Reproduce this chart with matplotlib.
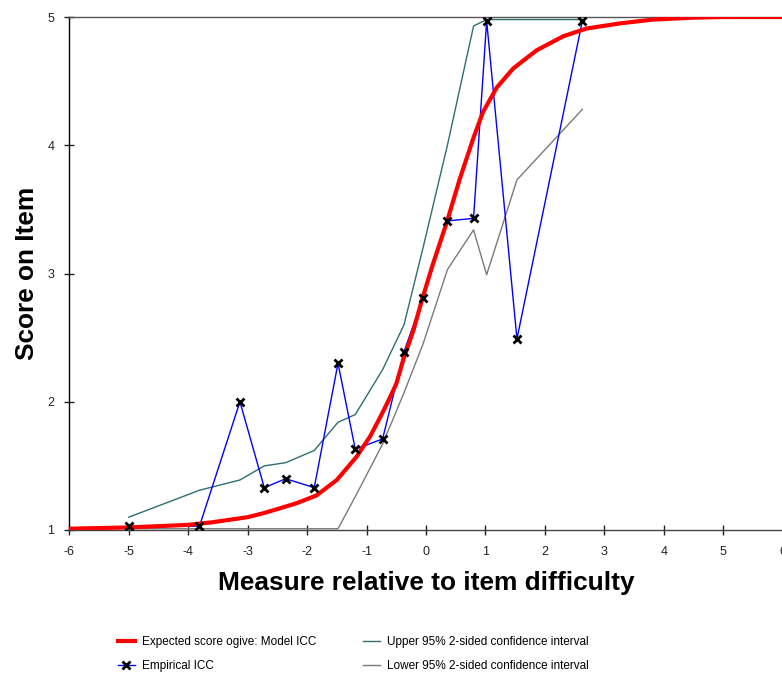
import matplotlib
matplotlib.use("Agg")
import matplotlib.pyplot as plt
from matplotlib.lines import Line2D

plt.rcParams['font.family'] = ['Liberation Sans', 'DejaVu Sans']

# ---- data ----
model_x = [-6, -5, -4.5, -4, -3.6, -3.3, -3.0, -2.74, -2.45, -2.17, -1.84, -1.5, -1.17,
           -0.94, -0.77, -0.63, -0.5, -0.38, -0.21, -0.07, 0.1, 0.35, 0.57, 0.8, 0.96,
           1.19, 1.47, 1.86, 2.31, 2.7, 3.26, 3.82, 4.5, 5, 6]
model_y = [1.01, 1.02, 1.03, 1.04, 1.06, 1.08, 1.10, 1.13, 1.17, 1.21, 1.27, 1.39, 1.57,
           1.73, 1.88, 2.01, 2.14, 2.33, 2.56, 2.79, 3.05, 3.40, 3.74, 4.06, 4.26,
           4.45, 4.60, 4.74, 4.85, 4.91, 4.95, 4.98, 4.995, 5.0, 5.0]

emp_x = [-5.00, -3.81, -3.13, -2.72, -2.36, -1.88, -1.48, -1.19, -0.73, -0.37,
         -0.05, 0.36, 0.80, 1.02, 1.53, 2.63]
emp_y = [1.03, 1.03, 2.00, 1.33, 1.40, 1.33, 2.30, 1.63, 1.71, 2.39,
         2.81, 3.41, 3.43, 4.97, 2.49, 4.97]
upper_y = [1.10, 1.31, 1.39, 1.50, 1.525, 1.62, 1.84, 1.90, 2.25, 2.60,
           3.20, 4.00, 4.93, 4.98, 4.98, 4.98]
lower_y = [1.01, 1.01, 1.01, 1.01, 1.01, 1.01, 1.01, 1.26, 1.67, 2.07,
           2.45, 3.03, 3.34, 2.99, 3.73, 4.28]

x_ticks = [-6, -5, -4, -3, -2, -1, 0, 1, 2, 3, 4, 5, 6]
y_ticks = [1, 2, 3, 4, 5]

labels = ["Expected score ogive: Model ICC", "Empirical ICC",
          "Upper 95% 2-sided confidence interval",
          "Lower 95% 2-sided confidence interval"]

# ---- figure ----
W, H = 782, 674
fig = plt.figure(figsize=(W / 100, H / 100), dpi=100)
left, right, top, bottom = 69.3, 782.7, 17, 530
ax = fig.add_axes([left / W, 1 - bottom / H, (right - left) / W, (bottom - top) / H])

c_red = '#FF0000'
c_blue = '#0000FF'
c_teal = '#2F6E6E'
c_gray = '#7A7A7A'

ax.plot(emp_x, upper_y, color=c_teal, lw=1.0, zorder=2)
ax.plot(emp_x, lower_y, color=c_gray, lw=1.0, zorder=2)
ax.plot(emp_x, emp_y, color=c_blue, lw=1.0, zorder=3)
ax.plot(model_x, model_y, color=c_red, lw=3.0, zorder=4, solid_joinstyle='round')
ax.plot(emp_x, emp_y, ls='none', marker='x', ms=6, mew=2, color='black', zorder=5)

ax.set_xlim(-6, 6)
ax.set_ylim(1, 5)
ax.set_xticks(x_ticks)
ax.set_yticks(y_ticks)
ax.set_xticklabels([str(t) for t in x_ticks])
ax.set_yticklabels([str(t) for t in y_ticks])

ax.spines['right'].set_visible(False)
ax.spines['top'].set_color('#555555')
ax.spines['left'].set_color('black')
ax.spines['bottom'].set_color('#444444')
for s in ['top', 'left', 'bottom']:
    ax.spines[s].set_linewidth(1.0)

ax.tick_params(axis='both', direction='inout', length=6.5, width=1.0, color='#222222',
               labelsize=9, labelcolor='#222222')
ax.tick_params(axis='y', pad=7.5)
ax.tick_params(axis='x', pad=8.5)

ax.set_xlabel("Measure relative to item difficulty", fontsize=18.9, fontweight='bold',
              va='center')
ax.xaxis.set_label_coords(0.5, -(583 - bottom) / (bottom - top))
ax.set_ylabel("Score on Item", fontsize=18.9, fontweight='bold', va='center')
ax.yaxis.set_label_coords((27 - left) / (right - left), 0.5)

handles = [
    Line2D([], [], color=c_red, lw=3.0),
    Line2D([], [], color=c_blue, lw=1.0, marker='x', ms=6, mew=2, mec='black'),
    Line2D([], [], color=c_teal, lw=1.0),
    Line2D([], [], color=c_gray, lw=1.0),
]
fig.legend(handles, labels, ncol=2, loc='upper left',
           bbox_to_anchor=(118 / W, 1 - 636.5 / H), bbox_transform=fig.transFigure,
           frameon=False, borderpad=0, borderaxespad=0, fontsize=8.5,
           handlelength=1.4, handletextpad=0.6, columnspacing=4.0, labelspacing=1.0,
           numpoints=1)

fig.savefig("out.png", dpi=100)
